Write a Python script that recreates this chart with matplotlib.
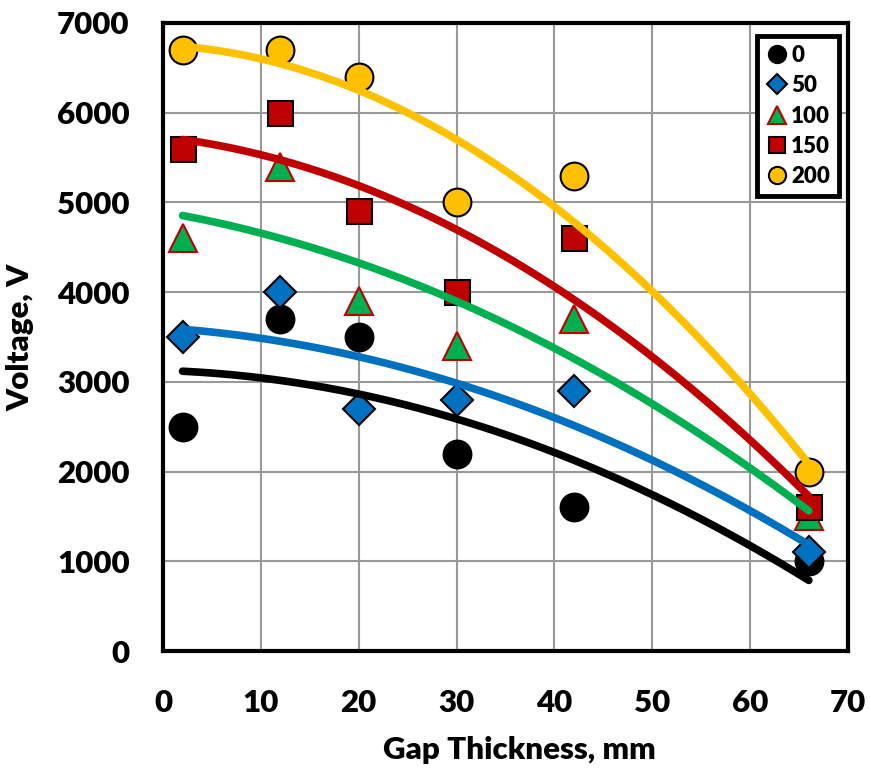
import matplotlib.pyplot as plt
import numpy as np

plt.rcParams['font.family'] = ['Lato', 'DejaVu Sans']
plt.rcParams['font.weight'] = 'heavy'

gap = [2, 12, 20, 30, 42, 66]
v0 = [2500, 3700, 3500, 2200, 1600, 1000]
v50 = [3500, 4000, 2700, 2800, 2900, 1100]
v100 = [4600, 5400, 3900, 3400, 3700, 1500]
v150 = [5600, 6000, 4900, 4000, 4600, 1600]
v200 = [6700, 6700, 6400, 5000, 5300, 2000]
labels = ['0', '50', '100', '150', '200']

series = [v0, v50, v100, v150, v200]
colors = ['#000000', '#0070C0', '#00B050', '#C00000', '#FFC000']
edges = ['#000000', '#000000', '#C00000', '#000000', '#000000']
markers = ['o', 'D', '^', 's', 'o']
msizes = [20, 16, 20, 18, 20]

fig = plt.figure(figsize=(8.71, 7.71), dpi=100)
ax = fig.add_axes([0.1871, 0.1556, 0.7865, 0.8146])

xs = np.linspace(gap[0], gap[-1], 200)
for y, c, e, m, ms, lab in zip(series, colors, edges, markers, msizes, labels):
    ax.plot(gap, y, linestyle='none', marker=m, markersize=ms, markerfacecolor=c,
            markeredgecolor=e, markeredgewidth=1.5, label=lab, zorder=3)
# quadratic trend lines, like the Excel ones
for y, c in zip(series, colors):
    p = np.polyfit(gap, y, 2)
    ax.plot(xs, np.polyval(p, xs), color=c, linewidth=5.5, solid_capstyle='round', zorder=4)

ax.set_xlim(0, 70)
ax.set_ylim(0, 7000)
ax.set_xticks(range(0, 71, 10))
ax.set_yticks(range(0, 7001, 1000))
ax.grid(True, color='#999999', linewidth=1.5)
ax.set_axisbelow(True)
ax.tick_params(length=0, labelsize=22.5)
ax.tick_params(axis='x', pad=27)
ax.tick_params(axis='y', pad=24)
for s in ax.spines.values():
    s.set_linewidth(3)
ax.set_xlabel('Gap Thickness, mm', fontsize=22.5, fontweight='heavy')
ax.set_ylabel('Voltage, V', fontsize=22.5, fontweight='heavy')
ax.xaxis.set_label_coords(0.52, -0.135)
ax.yaxis.set_label_coords(-0.187, 0.5)

leg = ax.legend(loc='upper right', fontsize=16, frameon=True, fancybox=False,
                edgecolor='black', framealpha=1, handletextpad=0.15, borderpad=0.4,
                labelspacing=0.42, markerscale=0.62, handlelength=1.0,
                bbox_to_anchor=(1.003, 0.997))
leg.get_frame().set_linewidth(3.5)

fig.savefig('out.png', dpi=100)
